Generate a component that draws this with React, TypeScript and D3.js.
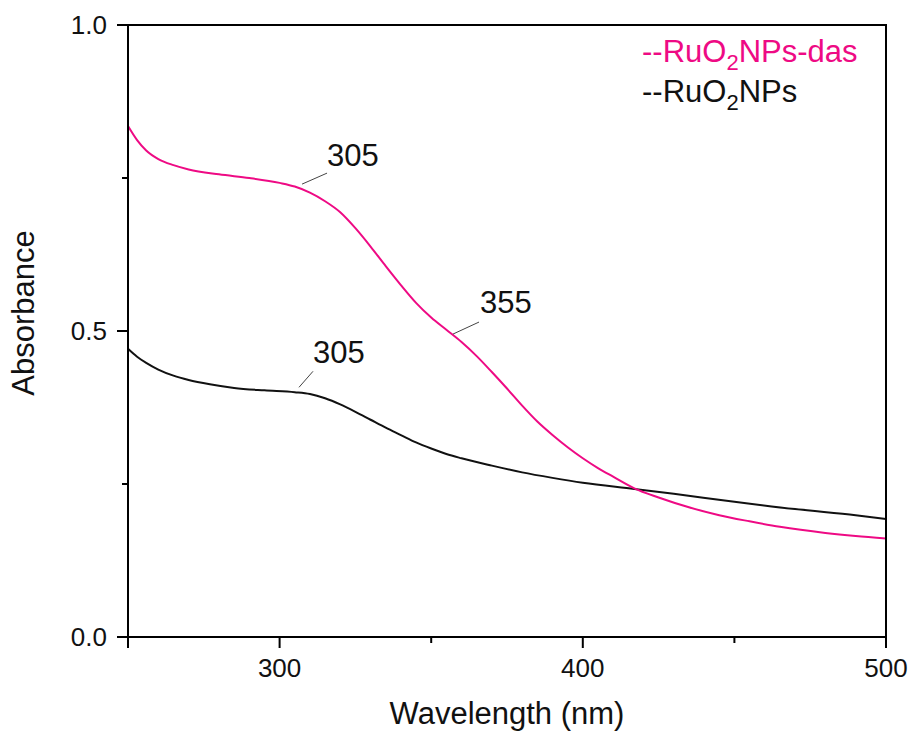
import React from "react";
import * as d3 from "d3";

const W = 911;
const H = 732;

const dasWavelength = [250, 253, 256, 260, 265, 270, 280, 290, 300, 305, 310, 315, 320, 325, 330, 335, 340, 345, 350, 355, 360, 365, 370, 375, 380, 385, 390, 395, 400, 405, 410, 417, 425, 435, 445, 455, 465, 480, 490, 500];
const dasAbsorbance = [0.835, 0.812, 0.795, 0.781, 0.771, 0.764, 0.756, 0.750, 0.742, 0.736, 0.726, 0.712, 0.694, 0.668, 0.638, 0.606, 0.575, 0.546, 0.522, 0.502, 0.482, 0.459, 0.433, 0.406, 0.378, 0.352, 0.330, 0.310, 0.292, 0.276, 0.262, 0.243, 0.228, 0.212, 0.199, 0.189, 0.180, 0.170, 0.165, 0.161];

const npWavelength = [250, 253, 256, 260, 265, 270, 277, 285, 295, 305, 310, 315, 320, 325, 330, 335, 340, 345, 350, 355, 360, 370, 380, 390, 400, 417, 430, 450, 470, 490, 500];
const npAbsorbance = [0.471, 0.458, 0.448, 0.437, 0.427, 0.420, 0.413, 0.407, 0.403, 0.400, 0.397, 0.390, 0.380, 0.368, 0.355, 0.342, 0.330, 0.318, 0.308, 0.299, 0.292, 0.280, 0.269, 0.260, 0.252, 0.242, 0.234, 0.221, 0.209, 0.199, 0.193];

const xMajorTicks = [300, 400, 500];
const xMinorTicks = [350, 450];
const yMajorTicks = [0, 0.5, 1.0];
const yMinorTicks = [0.25, 0.75];

const annotText = ["305", "355", "305"];
const annotWavelength = [307.4, 357.2, 306.4];
const annotAbsorbance = [0.740, 0.495, 0.408];

const PINK = "#ee0a84";
const FONT = "'Liberation Sans', Arial, sans-serif";

export default function App() {
  const m = { left: 128, right: 886, top: 25, bottom: 637 };
  const x = d3.scaleLinear().domain([250, 500]).range([m.left, m.right]);
  const y = d3.scaleLinear().domain([0, 1]).range([m.bottom, m.top]);

  const line = d3
    .line<[number, number]>()
    .x((d) => x(d[0]))
    .y((d) => y(d[1]))
    .curve(d3.curveMonotoneX);

  const das = dasWavelength.map((w, i) => [w, dasAbsorbance[i]] as [number, number]);
  const np = npWavelength.map((w, i) => [w, npAbsorbance[i]] as [number, number]);

  const leaderOff = [
    [25, -11, 25, -18],
    [26, -12, 27, -21],
    [14, -16, 14, -24],
  ];

  return (
    <svg width={W} height={H} style={{ display: "block", position: "absolute", left: 0, top: 0 }} fontFamily={FONT}>
      <rect x={0} y={0} width={W} height={H} fill="#fff" />
      {/* curves */}
      <path d={line(np) || ""} fill="none" stroke="#111" strokeWidth={2} />
      <path d={line(das) || ""} fill="none" stroke={PINK} strokeWidth={2} />

      {/* frame */}
      <rect x={m.left} y={m.top} width={m.right - m.left} height={m.bottom - m.top} fill="none" stroke="#000" strokeWidth={2} />

      {/* x ticks */}
      {xMajorTicks.map((t) => (
        <g key={"xm" + t}>
          <line x1={x(t)} x2={x(t)} y1={m.bottom} y2={m.bottom + 11} stroke="#000" strokeWidth={2} />
          <text x={x(t)} y={m.bottom + 40} textAnchor="middle" fontSize={26} fill="#111">
            {t}
          </text>
        </g>
      ))}
      {xMinorTicks.map((t) => (
        <line key={"xn" + t} x1={x(t)} x2={x(t)} y1={m.bottom} y2={m.bottom + 6} stroke="#000" strokeWidth={2} />
      ))}
      <line x1={m.left} x2={m.left} y1={m.bottom} y2={m.bottom + 11} stroke="#000" strokeWidth={2} />

      {/* y ticks */}
      {yMajorTicks.map((t) => (
        <g key={"ym" + t}>
          <line x1={m.left - 11} x2={m.left} y1={y(t)} y2={y(t)} stroke="#000" strokeWidth={2} />
          <text x={107} y={y(t)} dy="0.35em" textAnchor="end" fontSize={26} fill="#111">
            {t.toFixed(1)}
          </text>
        </g>
      ))}
      {yMinorTicks.map((t) => (
        <line key={"yn" + t} x1={m.left - 6} x2={m.left} y1={y(t)} y2={y(t)} stroke="#000" strokeWidth={2} />
      ))}

      {/* axis titles */}
      <text x={(m.left + m.right) / 2} y={724} textAnchor="middle" fontSize={31} fill="#111">
        Wavelength (nm)
      </text>
      <text transform={`translate(34, 313) rotate(-90)`} textAnchor="middle" fontSize={31} fill="#111">
        Absorbance
      </text>

      {/* annotations */}
      {annotText.map((t, i) => {
        const px = x(annotWavelength[i]);
        const py = y(annotAbsorbance[i]);
        const o = leaderOff[i];
        return (
          <g key={"a" + i}>
            <line x1={px} y1={py} x2={px + o[0]} y2={py + o[1]} stroke="#444" strokeWidth={1} />
            <text x={px + o[2]} y={py + o[3]} fontSize={31} fill="#111">
              {t}
            </text>
          </g>
        );
      })}

      {/* legend */}
      <text x={642} y={62} fontSize={31} fill={PINK}>
        --RuO<tspan fontSize={22} dy={8}>2</tspan>
        <tspan dy={-8}>NPs-das</tspan>
      </text>
      <text x={642} y={102} fontSize={31} fill="#111">
        --RuO<tspan fontSize={22} dy={8}>2</tspan>
        <tspan dy={-8}>NPs</tspan>
      </text>
    </svg>
  );
}
